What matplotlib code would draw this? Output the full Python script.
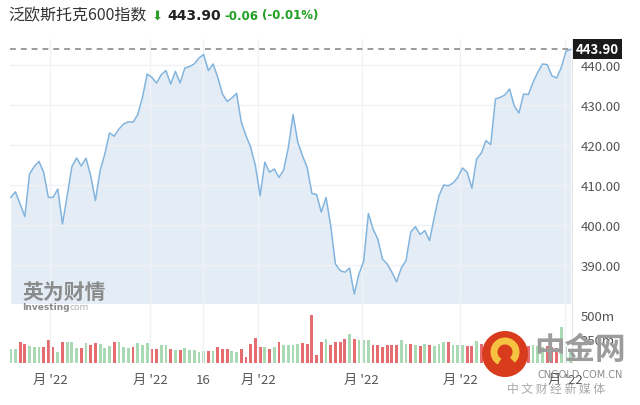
import matplotlib
matplotlib.use("Agg")
import matplotlib.pyplot as plt
from matplotlib.patches import Ellipse, Arc

plt.rcParams['font.family'] = ['Noto Sans CJK SC', 'DejaVu Sans']

# 收盘价（按交易日）
price = [406.9, 408.3, 405.25, 402.1, 412.75, 414.6, 415.9, 413.2, 406.9, 406.9,
         409.0, 400.25, 407.3, 414.6, 416.75, 414.75, 416.7, 412.3, 406.1, 413.6,
         417.75, 423.0, 422.2, 424.0, 425.25, 425.8, 425.7, 427.6, 431.9, 437.75,
         436.9, 435.5, 437.6, 438.6, 435.25, 438.4, 435.5, 439.25, 439.6, 440.25,
         441.75, 442.6, 438.6, 440.25, 436.9, 432.75, 430.9, 431.75, 432.9, 425.7,
         422.3, 419.4, 414.8, 407.3, 415.7, 413.2, 414.0, 411.9, 413.75, 419.4,
         427.6, 420.7, 417.3, 414.4, 407.9, 407.6, 403.2, 406.9, 399.8, 390.25,
         388.6, 388.2, 389.25, 382.75, 387.75, 390.9, 402.9, 399.0, 396.5, 391.5,
         390.25, 388.2, 385.8, 389.25, 391.1, 398.2, 399.6, 397.6, 398.6, 396.1,
         401.9, 407.3, 410.0, 409.8, 410.5, 411.9, 414.25, 413.2, 409.2, 416.5,
         418.0, 421.1, 420.1, 431.5, 431.9, 432.5, 434.0, 429.8, 428.0, 432.75,
         432.6, 435.7, 438.2, 440.25, 440.1, 437.3, 436.75, 439.4, 443.4, 443.9]

# 成交量（百万）
volume = [149, 149, 222, 194, 181, 170, 163, 170, 236, 170,
          118, 222, 219, 219, 160, 153, 208, 188, 208, 194,
          160, 181, 222, 222, 167, 160, 163, 208, 191, 208,
          142, 149, 191, 191, 149, 132, 139, 160, 139, 139,
          118, 128, 128, 128, 163, 149, 149, 128, 118, 149,
          66, 201, 257, 163, 170, 149, 163, 222, 191, 188,
          191, 194, 212, 201, 500, 80, 222, 247, 191, 222,
          222, 247, 299, 247, 243, 240, 240, 184, 191, 170,
          184, 184, 184, 236, 201, 201, 191, 177, 194, 184,
          177, 201, 222, 222, 191, 188, 184, 181, 181, 226,
          201, 212, 200, 240, 210, 190, 200, 210, 230, 200,
          180, 190, 180, 170, 180, 170, 160, 375, 180, 150]

# 涨跌方向 g=涨 r=跌
vol_dir = list("ggrrgggrrr" "grgggrgrrg" "ggrgggrggg" "rrggrgrggg"
               "ggrgrrrggr" "rrrrgrgrgg" "ggrrrrrgrr" "rrgrgggrrr"
               "rrrggrgrgr" "gggrgggrrg" "rgrggggrrg" "rgggrrrggg")

last_price = 443.90
price_ticks = [390, 400, 410, 420, 430, 440]
vol_ticks = [250, 500]
vol_tick_labels = ["250m", "500m"]
x_tick_pos = [8.35, 29.6, 40.9, 52.6, 74.6, 95.5, 117.8]
x_tick_labels = ["月 '22", "月 '22", "16", "月 '22", "月 '22", "月 '22", "月 '22"]

W, H = 640, 406
fig = plt.figure(figsize=(6.4, 4.06), dpi=100)

ax = fig.add_axes([10 / W, 1 - 305 / H, 562 / W, 265 / H])
axv = fig.add_axes([10 / W, 1 - 364 / H, 562 / W, 59 / H], sharex=ax)

x = list(range(len(price)))
y_min, y_max = 380.25, 446.5

# 价格走势
ax.fill_between(x, price, y_min, color="#e4edf5", lw=0)
ax.plot(x, price, color="#82b4de", lw=1.1)
ax.axhline(last_price, color="#8a8a8a", lw=1.2, ls=(0, (3.5, 3)))
ax.set_ylim(y_min, y_max)
ax.set_xlim(-0.15, 119.27)
ax.set_yticks(price_ticks)
ax.set_yticklabels([f"{v:.2f}" for v in price_ticks])
ax.yaxis.tick_right()
ax.tick_params(axis="y", length=0, pad=6, labelsize=9.5, labelcolor="#555555")
ax.tick_params(axis="x", length=0, labelbottom=False)
ax.set_xticks(x_tick_pos)
ax.grid(True, color="#f0f2f5", lw=1)
for s in ["top", "left"]:
    ax.spines[s].set_visible(False)
ax.spines["bottom"].set_color("#d5dde6")
ax.spines["right"].set_color("#e6e6e6")

ax.annotate(f"{last_price:.2f}", xy=(1, last_price), xycoords=("axes fraction", "data"),
            xytext=(2.5, 0), textcoords="offset points", va="center", ha="left",
            color="white", fontsize=9.5, fontweight="bold",
            bbox=dict(boxstyle="square,pad=0.22", fc="#1b1b1b", ec="none"))

# 成交量
bar_colors = ["#a9dab3" if d == "g" else "#e56d6f" for d in vol_dir]
axv.bar(x, volume, width=0.6, color=bar_colors)
axv.set_ylim(0, 615)
axv.set_yticks(vol_ticks)
axv.set_yticklabels(vol_tick_labels)
axv.yaxis.tick_right()
axv.tick_params(axis="y", length=0, pad=6, labelsize=9.5, labelcolor="#555555")
axv.set_xticks(x_tick_pos)
axv.set_xticklabels(x_tick_labels)
axv.tick_params(axis="x", length=0, pad=7, labelsize=9.5, labelcolor="#555555")
axv.grid(True, axis="x", color="#f0f2f5", lw=1)
for s in ["top", "left", "bottom"]:
    axv.spines[s].set_visible(False)
axv.spines["right"].set_color("#e6e6e6")

# 标题行
ty = 1 - 16 / H
fig.text(8 / W, ty, "泛欧斯托克600指数", fontsize=11.5, color="#333333", va="center")
fig.text(152 / W, ty, "⬇", fontsize=9.5, color="#2e9e2e", va="center",
         family=["DejaVu Sans"])
fig.text(167 / W, ty, "443.90", fontsize=10, fontweight="bold", color="#222222",
         va="center", family=["DejaVu Sans"])
fig.text(224 / W, ty, "-0.06", fontsize=8.5, fontweight="bold", color="#22a022",
         va="center", family=["DejaVu Sans"])
fig.text(262 / W, ty, "(-0.01%)", fontsize=8.5, fontweight="bold", color="#22a022",
         va="center", family=["DejaVu Sans"])

# 英为财情水印
fig.text(22 / W, 1 - 292 / H, "英为财情", fontsize=15, fontweight="bold",
         color="#808080", va="center", alpha=0.9)
fig.text(22 / W, 1 - 307 / H, "Investing", fontsize=6.5, fontweight="bold",
         color="#8a8a8a", va="center", family=["DejaVu Sans"])
fig.text(69 / W, 1 - 307 / H, "com", fontsize=6.5, color="#b0b0b0", va="center",
         family=["DejaVu Sans"])

# 中金网水印
cx, cy = 505 / W, 1 - 355 / H
fig.add_artist(Ellipse((cx, cy), 46 / W, 46 / H, transform=fig.transFigure,
                       fc="#d83c1c", ec="none", zorder=5))
fig.add_artist(Arc((cx, cy + 2 / H), 22 / W, 22 / H, theta1=-60, theta2=250,
                   transform=fig.transFigure, color="#f5c242", lw=5, zorder=6))
fig.text(580 / W, 1 - 350 / H, "中金网", fontsize=22, fontweight="bold",
         color="#9c9c9c", ha="center", va="center", zorder=7)
fig.text(580 / W, 1 - 375 / H, "CNGOLD.COM.CN", fontsize=7, color="#8c8c8c",
         ha="center", va="center", zorder=7, family=["DejaVu Sans"])
fig.text(556 / W, 1 - 389 / H, "中 文 财 经 新 媒 体", fontsize=8.5, color="#a8a8a8",
         ha="center", va="center", zorder=7)

fig.savefig("out.png", dpi=100)
